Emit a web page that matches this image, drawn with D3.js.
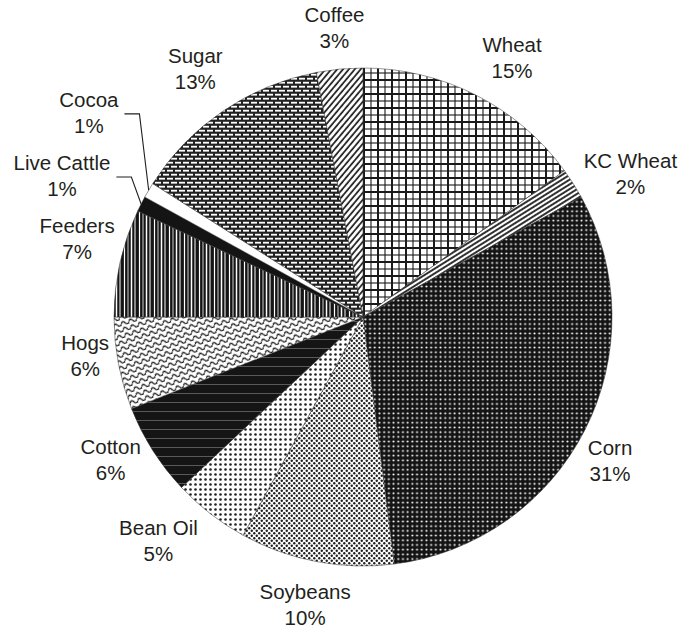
<!DOCTYPE html>
<html>
<head>
<meta charset="utf-8">
<script src="https://cdn.jsdelivr.net/npm/d3@7"></script>
<style>
  body { margin: 0; background: #fff; }
  svg text { font-family: "Liberation Sans", Arial, sans-serif; font-size: 20.5px; fill: #231f20; }
</style>
</head>
<body>
<div id="grafico"></div>
<script>
// dados -----------------------------------------------------------------
const categorias = ["Wheat", "KC Wheat", "Corn", "Soybeans", "Bean Oil", "Cotton",
                    "Hogs", "Feeders", "Live Cattle", "Cocoa", "Sugar", "Coffee"];
const percentuais = [15, 2, 31, 10, 5, 6, 6, 7, 1, 1, 13, 3];

// medidas
const largura = 681, altura = 632;
const centro = [363, 317], raio = 249, raio_rotulo = 293;

// padrão de preenchimento de cada fatia
const padrao = {
  "Wheat": "xadrez", "KC Wheat": "listras_kc", "Corn": "pontos_escuros",
  "Soybeans": "pontos_medios", "Bean Oil": "pontos_claros", "Cotton": "linhas_h",
  "Hogs": "escamas", "Feeders": "listras_v", "Live Cattle": "solido",
  "Cocoa": "branco", "Sugar": "tijolos", "Coffee": "hachura"
};

// ajustes manuais dos rótulos (dx, dy)
const ajuste = {
  "Wheat": [16, 2], "KC Wheat": [20, 14], "Corn": [-14, 11], "Soybeans": [-3, 0],
  "Bean Oil": [-25, -8], "Cotton": [-5, -14], "Hogs": [10, -16], "Feeders": [0, -14],
  "Live Cattle": [-40, -8], "Cocoa": [-22, -55], "Sugar": [-3, -6], "Coffee": [-1, 3]
};
const com_linha = ["Live Cattle", "Cocoa"]; // rótulos com linha de chamada

const svg = d3.select("#grafico").append("svg")
    .attr("width", largura)
    .attr("height", altura)
    .attr("viewBox", [0, 0, largura, altura]);

// PADRÕES -----------------------------------------------------------------
const defs = svg.append("defs");
const novo = (id, w, h, fundo, rot) => {
  const p = defs.append("pattern")
      .attr("id", id)
      .attr("patternUnits", "userSpaceOnUse")
      .attr("width", w).attr("height", h);
  if (rot) p.attr("patternTransform", `rotate(${rot})`);
  p.append("rect").attr("width", w).attr("height", h).attr("fill", fundo);
  return p;
};

// xadrez (Wheat)
let p = novo("xadrez", 14, 14, "#fff");
[[1, 2], [8, 1.1]].forEach(([v, s]) => {
  p.append("line").attr("x1", v).attr("x2", v).attr("y1", 0).attr("y2", 14)
    .attr("stroke", "#1a1a1a").attr("stroke-width", s);
  p.append("line").attr("y1", v).attr("y2", v).attr("x1", 0).attr("x2", 14)
    .attr("stroke", "#1a1a1a").attr("stroke-width", s);
});

// listras diagonais (KC Wheat)
p = novo("listras_kc", 4, 4, "#fff", 58);
p.append("line").attr("x1", 1).attr("x2", 1).attr("y1", 0).attr("y2", 4)
  .attr("stroke", "#1a1a1a").attr("stroke-width", 1.8);

// hachura (Coffee)
p = novo("hachura", 4.5, 4.5, "#fff", 40);
p.append("line").attr("x1", 1).attr("x2", 1).attr("y1", 0).attr("y2", 4.5)
  .attr("stroke", "#1a1a1a").attr("stroke-width", 1.7);

// pontos brancos em fundo escuro (Corn)
p = novo("pontos_escuros", 4.7, 4.7, "#141414");
p.append("circle").attr("cx", 2.35).attr("cy", 2.35).attr("r", 1.05).attr("fill", "#fff");

// pontos médios (Soybeans)
p = novo("pontos_medios", 5, 5, "#fff");
[[1.25, 1.25], [3.75, 3.75]].forEach(([x, y]) =>
  p.append("circle").attr("cx", x).attr("cy", y).attr("r", 1.2).attr("fill", "#1e1e1e"));

// pontos claros (Bean Oil)
p = novo("pontos_claros", 5, 5, "#fff");
p.append("circle").attr("cx", 2.5).attr("cy", 2.5).attr("r", 1.3).attr("fill", "#1e1e1e");

// linhas horizontais finas em preto (Cotton)
p = novo("linhas_h", 10, 9, "#151515");
p.append("line").attr("x1", 0).attr("x2", 10).attr("y1", 4.5).attr("y2", 4.5)
  .attr("stroke", "#777").attr("stroke-width", 0.7);

// escamas (Hogs)
p = novo("escamas", 8, 6, "#fff", -18);
p.append("path").attr("d", "M0,4 q2,-3.5 4,0 t4,0")
  .attr("fill", "none").attr("stroke", "#1e1e1e").attr("stroke-width", 1.3);

// listras verticais (Feeders)
p = novo("listras_v", 15, 10, "#141414");
[[1.5, 1.2], [5, 0.8], [8.5, 1.5], [12, 1]].forEach(([x, s]) =>
  p.append("line").attr("x1", x).attr("x2", x).attr("y1", 0).attr("y2", 10)
    .attr("stroke", "#fff").attr("stroke-width", s));

// sólido e branco
novo("solido", 4, 4, "#141414");
novo("branco", 4, 4, "#fff");

// tijolos (Sugar)
p = novo("tijolos", 8, 8, "#222");
[[0, 0.8], [4, 4.8], [-4, 4.8]].forEach(([x, y]) =>
  p.append("rect").attr("x", x).attr("y", y).attr("width", 6).attr("height", 1.8).attr("fill", "#fff"));

// PIZZA -------------------------------------------------------------------
const dados = categorias.map((c, i) => ({ categoria: c, valor: percentuais[i] }));
const pizza = d3.pie().sort(null).value(d => d.valor);
const arco = d3.arc().innerRadius(0).outerRadius(raio);
const fatias = pizza(dados);

const g = svg.append("g").attr("transform", `translate(${centro})`);

g.selectAll("path")
  .data(fatias)
  .join("path")
    .attr("d", arco)
    .attr("fill", d => `url(#${padrao[d.data.categoria]})`)
    .attr("stroke", "#333")
    .attr("stroke-width", 0.5);

// RÓTULOS -----------------------------------------------------------------
const meio = d => (d.startAngle + d.endAngle) / 2;
const pos = d => {
  const a = meio(d), [dx, dy] = ajuste[d.data.categoria] || [0, 0];
  return [raio_rotulo * Math.sin(a) + dx, -raio_rotulo * Math.cos(a) + dy];
};

const rotulos = g.append("g").attr("class", "rotulos")
  .selectAll("text")
  .data(fatias)
  .join("text")
    .attr("text-anchor", "middle");

rotulos.append("tspan")
    .attr("x", d => pos(d)[0])
    .attr("y", d => pos(d)[1] - 6)
    .text(d => d.data.categoria);
rotulos.append("tspan")
    .attr("x", d => pos(d)[0])
    .attr("y", d => pos(d)[1] + 20)
    .text(d => d.data.valor + "%");

// linhas de chamada para as fatias pequenas
g.append("g").attr("class", "chamadas")
  .selectAll("path")
  .data(fatias.filter(d => com_linha.includes(d.data.categoria)))
  .join("path")
    .attr("fill", "none")
    .attr("stroke", "#231f20")
    .attr("stroke-width", 1.1)
    .attr("d", function(d) {
      const [x, y] = pos(d);
      const txt = rotulos.filter(e => e === d).select("tspan").node();
      const x0 = x + txt.getComputedTextLength() / 2 + 6;
      const a = meio(d);
      return d3.line()([[x0, y + 1], [x0 + 15, y + 1],
                        [raio * Math.sin(a), -raio * Math.cos(a)]]);
    });
</script>
</body>
</html>
